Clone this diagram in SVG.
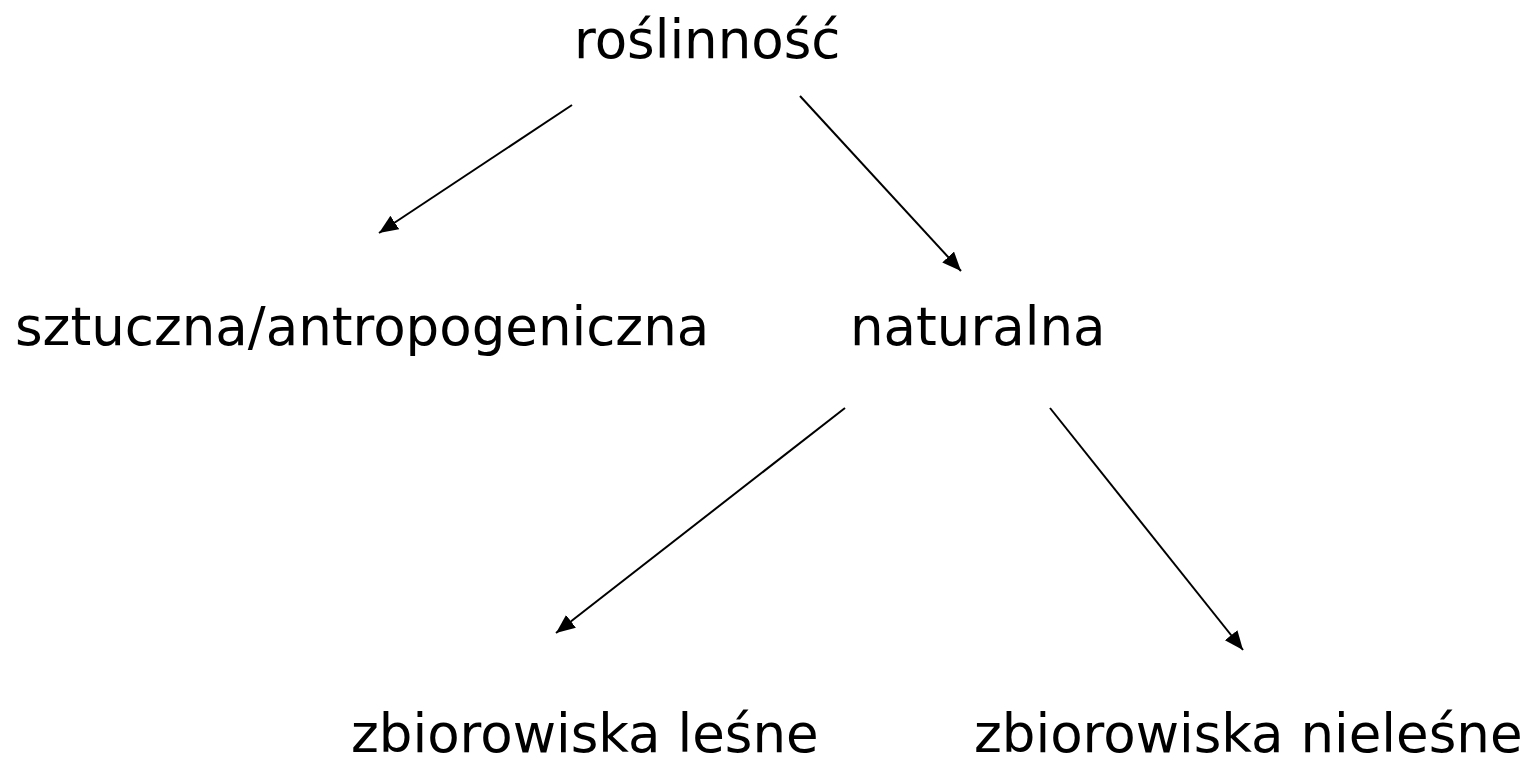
<svg xmlns="http://www.w3.org/2000/svg" width="1529" height="765" viewBox="0 0 1529 765">
<style>
text{font-family:"DejaVu Sans","Verdana",sans-serif;font-size:53px;fill:#000}
.c line{stroke:#000;stroke-width:2;fill:none;marker-end:url(#ah)}
</style>
<defs>
<marker id="ah" markerUnits="userSpaceOnUse" markerWidth="22" markerHeight="18" refX="19" refY="8" orient="auto">
<path d="M0,0 L19,8 L0,16 z" fill="#000"/>
</marker>
</defs>
<rect width="1529" height="765" fill="#fff"/>
<g id="roslinnosc"><text x="574" y="58">roślinność</text></g>
<g id="sztuczna"><text x="15" y="345">sztuczna/antropogeniczna</text></g>
<g id="naturalna"><text x="850" y="345">naturalna</text></g>
<g id="lesne"><text x="351" y="752">zbiorowiska leśne</text></g>
<g id="nielesne"><text x="974" y="752">zbiorowiska nieleśne</text></g>
<g class="c" id="connectors">
<line x1="572" y1="105" x2="379" y2="233"/>
<line x1="800" y1="96" x2="961" y2="271"/>
<line x1="845" y1="408" x2="556" y2="633"/>
<line x1="1050" y1="408" x2="1243" y2="650"/>
</g>
</svg>
